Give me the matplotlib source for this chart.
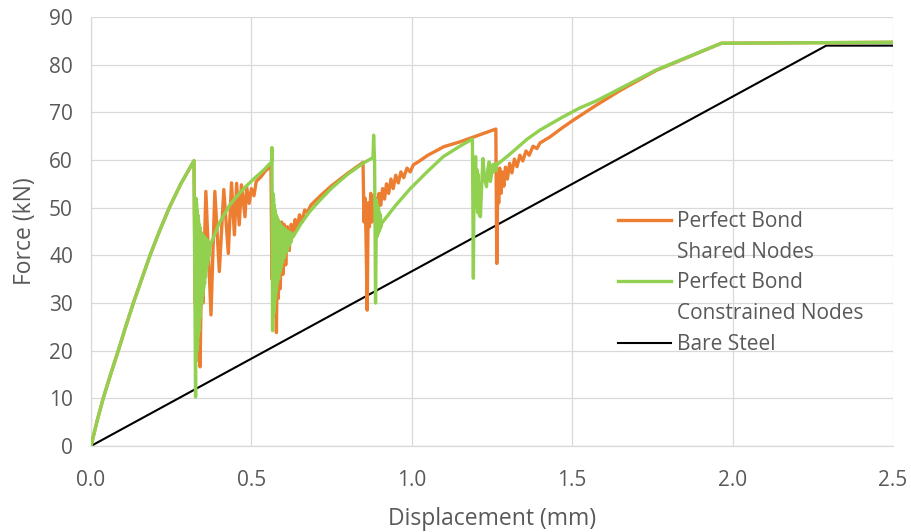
import matplotlib
matplotlib.use('Agg')
import matplotlib.pyplot as plt

plt.rcParams['font.family'] = ['Open Sans', 'DejaVu Sans']

### DATA ###
# displacement (mm) / force (kN) for each model
shared_x = [0.0, 0.018, 0.038, 0.061, 0.085, 0.108, 0.132, 0.158, 0.184, 0.213,
            0.244, 0.280, 0.321,
            0.325, 0.328, 0.332, 0.336, 0.340, 0.344, 0.349,
            0.358, 0.374, 0.386, 0.400, 0.414, 0.428, 0.438, 0.447, 0.454, 0.462,
            0.469, 0.480, 0.485, 0.493, 0.500, 0.508, 0.515, 0.530, 0.545, 0.561,
            0.564, 0.568, 0.572, 0.575, 0.578, 0.581, 0.584, 0.587, 0.590, 0.594,
            0.598, 0.602, 0.607, 0.612, 0.618, 0.624, 0.630, 0.636, 0.642, 0.650,
            0.658, 0.666, 0.675, 0.685, 0.700, 0.720, 0.750, 0.800, 0.848,
            0.851, 0.854, 0.857, 0.861, 0.864, 0.868, 0.872, 0.876, 0.880, 0.884,
            0.889, 0.893, 0.898, 0.903, 0.909, 0.915, 0.921, 0.928, 0.935, 0.942,
            0.950, 0.958, 0.966, 0.975, 0.985, 0.995, 1.005, 1.020, 1.050, 1.100,
            1.150, 1.200, 1.262,
            1.265, 1.268, 1.271, 1.274, 1.278, 1.282, 1.287, 1.292, 1.298, 1.305,
            1.312, 1.320, 1.328, 1.337, 1.346, 1.356, 1.366, 1.378, 1.390, 1.400,
            1.430, 1.470, 1.500, 1.575, 1.650, 1.762, 1.965, 2.5]
shared_f = [0.0, 5.0, 10.0, 15.0, 20.0, 25.0, 30.0, 35.0, 40.0, 45.0,
            50.0, 55.0, 59.8,
            30.0, 45.0, 18.0, 42.0, 16.6, 35.0, 30.0,
            53.4, 27.5, 53.4, 36.6, 53.8, 40.4, 55.2, 44.3, 55.1, 46.4,
            54.8, 48.1, 54.4, 50.9, 54.0, 52.5, 55.5, 56.5, 57.8, 58.7,
            35.0, 50.0, 30.0, 45.0, 23.8, 44.0, 31.0, 46.0, 33.0, 47.0,
            36.0, 46.5, 38.0, 46.0, 41.0, 46.5, 44.0, 47.5, 45.5, 48.5,
            47.0, 49.5, 49.0, 50.5, 51.5, 52.8, 54.6, 57.2, 59.5,
            47.0, 52.0, 45.0, 28.5, 51.0, 46.0, 53.0, 47.0, 52.5, 48.0,
            52.0, 49.5, 53.0, 50.5, 54.0, 51.8, 55.0, 53.0, 56.0, 54.0,
            56.8, 55.2, 57.5, 56.3, 58.3, 57.5, 59.0, 59.6, 61.0, 62.8,
            63.8, 65.0, 66.5,
            38.3, 55.0, 51.0, 58.3, 53.0, 57.5, 54.5, 58.5, 56.0, 59.3,
            57.3, 60.2, 58.6, 61.0, 59.8, 61.9, 61.0, 62.9, 62.4, 63.6,
            64.8, 66.8, 68.2, 71.5, 74.6, 78.8, 84.5, 84.7]

constrained_x = [0.0, 0.018, 0.038, 0.061, 0.085, 0.108, 0.132, 0.158, 0.184, 0.213,
                 0.244, 0.280, 0.321,
                 0.326, 0.327, 0.328, 0.329, 0.330, 0.331, 0.332, 0.333, 0.334,
                 0.335, 0.336, 0.337, 0.338, 0.339, 0.340, 0.341, 0.342, 0.343,
                 0.345, 0.346, 0.348, 0.349, 0.351, 0.352, 0.354, 0.355, 0.357,
                 0.358, 0.360, 0.361, 0.363, 0.364, 0.366, 0.367, 0.369, 0.371,
                 0.400, 0.433, 0.460, 0.485, 0.510, 0.537, 0.563,
                 0.564, 0.566, 0.567, 0.568, 0.569, 0.570, 0.571, 0.572, 0.574,
                 0.575, 0.577, 0.578, 0.580, 0.581, 0.583, 0.585, 0.587, 0.589,
                 0.591, 0.593, 0.595, 0.597, 0.600, 0.602, 0.605, 0.607, 0.610,
                 0.612, 0.615, 0.618, 0.621, 0.624, 0.627, 0.630,
                 0.655, 0.682, 0.710, 0.750, 0.800, 0.850, 0.879,
                 0.881, 0.884, 0.887, 0.890, 0.892, 0.893, 0.895, 0.896, 0.898,
                 0.899, 0.901, 0.902, 0.904, 0.906,
                 0.950, 0.994, 1.046, 1.098, 1.150, 1.189,
                 1.192, 1.194, 1.196, 1.199, 1.201, 1.203, 1.205, 1.207, 1.210,
                 1.214, 1.218, 1.222, 1.227, 1.233, 1.237, 1.241, 1.245, 1.248,
                 1.252, 1.255, 1.258, 1.262, 1.265, 1.269,
                 1.300, 1.326, 1.360, 1.400, 1.470, 1.523, 1.575, 1.650, 1.762,
                 1.965, 2.5]
constrained_f = [0.0, 5.0, 10.0, 15.0, 20.0, 25.0, 30.0, 35.0, 40.0, 45.0,
                 50.0, 55.0, 59.9,
                 10.3, 52.0, 18.0, 51.0, 20.0, 49.5, 21.0, 48.5, 23.0,
                 47.5, 24.0, 46.5, 26.0, 46.0, 27.0, 45.0, 29.0, 44.8,
                 30.0, 44.5, 31.5, 44.2, 33.0, 44.0, 34.0, 43.7, 35.5,
                 43.5, 37.0, 43.2, 38.0, 43.0, 39.0, 42.7, 40.0, 42.0,
                 46.8, 50.6, 52.8, 54.6, 56.2, 57.8, 59.6,
                 62.6, 24.2, 53.0, 27.0, 52.0, 28.0, 50.5, 29.5, 49.5,
                 31.0, 48.5, 32.5, 48.0, 34.0, 47.5, 35.0, 47.0, 36.5,
                 46.5, 37.5, 46.0, 38.5, 45.8, 39.5, 45.5, 40.5, 45.2,
                 41.0, 45.0, 42.0, 44.8, 42.8, 44.5, 43.9,
                 46.7, 49.2, 51.3, 54.1, 57.0, 59.4, 60.5,
                 65.2, 60.0, 30.0, 51.6, 44.0, 50.5, 44.5, 50.0, 45.0,
                 49.0, 45.5, 48.5, 46.0, 46.7,
                 50.5, 53.9, 57.4, 60.7, 62.9, 64.4,
                 35.2, 57.0, 52.0, 60.7, 50.0, 58.0, 49.0, 57.0, 48.5,
                 48.1, 55.0, 60.3, 56.0, 54.4, 58.0, 59.6, 55.5, 56.8,
                 59.0, 57.5, 59.2, 57.8, 59.3, 59.2,
                 60.9, 62.4, 64.4, 66.3, 69.0, 70.9, 72.4, 75.0, 78.9,
                 84.5, 84.7]

steel_x = [0.0, 2.292, 2.5]
steel_f = [0.0, 84.0, 84.0]

x_ticks = [0.0, 0.5, 1.0, 1.5, 2.0, 2.5]
y_ticks = [0, 10, 20, 30, 40, 50, 60, 70, 80, 90]

grey = '#595959'

fig = plt.figure(figsize=(9.11, 5.32), dpi=100)
ax = fig.add_axes([0.0999, 0.1617, 0.8803, 0.8063])

l1, = ax.plot(shared_x, shared_f, color='#ED7D31', lw=2.4, zorder=3)
l2, = ax.plot(constrained_x, constrained_f, color='#92D050', lw=2.4, zorder=4)
l3, = ax.plot(steel_x, steel_f, color='black', lw=1.5, zorder=2)

ax.set_xlim(0, 2.5)
ax.set_ylim(0, 90)
ax.set_xticks(x_ticks)
ax.set_yticks(y_ticks)
ax.set_xticklabels([f'{v:.1f}' for v in x_ticks])
ax.grid(True, color='#D9D9D9', lw=0.9, zorder=0)
ax.set_axisbelow(True)
for side in ['top', 'right']:
    ax.spines[side].set_visible(False)
for side in ['left', 'bottom']:
    ax.spines[side].set_color('#D9D9D9')
    ax.spines[side].set_linewidth(0.9)
ax.tick_params(length=0, labelsize=15, colors=grey)
ax.tick_params(axis='y', pad=13)
ax.tick_params(axis='x', pad=17)

ax.set_xlabel('Displacement (mm)', fontsize=16.5, color=grey, labelpad=12)
ax.set_ylabel('Force (kN)', fontsize=16.5, color=grey, labelpad=9)

# legend: the second line of each two-line label gets an empty handle
blank = plt.Line2D([], [], color='none')
ax.legend([l1, blank, l2, blank, l3],
          ['Perfect Bond', 'Shared Nodes', 'Perfect Bond', 'Constrained Nodes', 'Bare Steel'],
          loc='upper left', bbox_to_anchor=(0.657, 0.548), frameon=False,
          fontsize=15, labelcolor=grey, handlelength=2.55, handletextpad=0.3,
          labelspacing=0.47, borderpad=0, borderaxespad=0)

fig.savefig('out.png', dpi=100)
